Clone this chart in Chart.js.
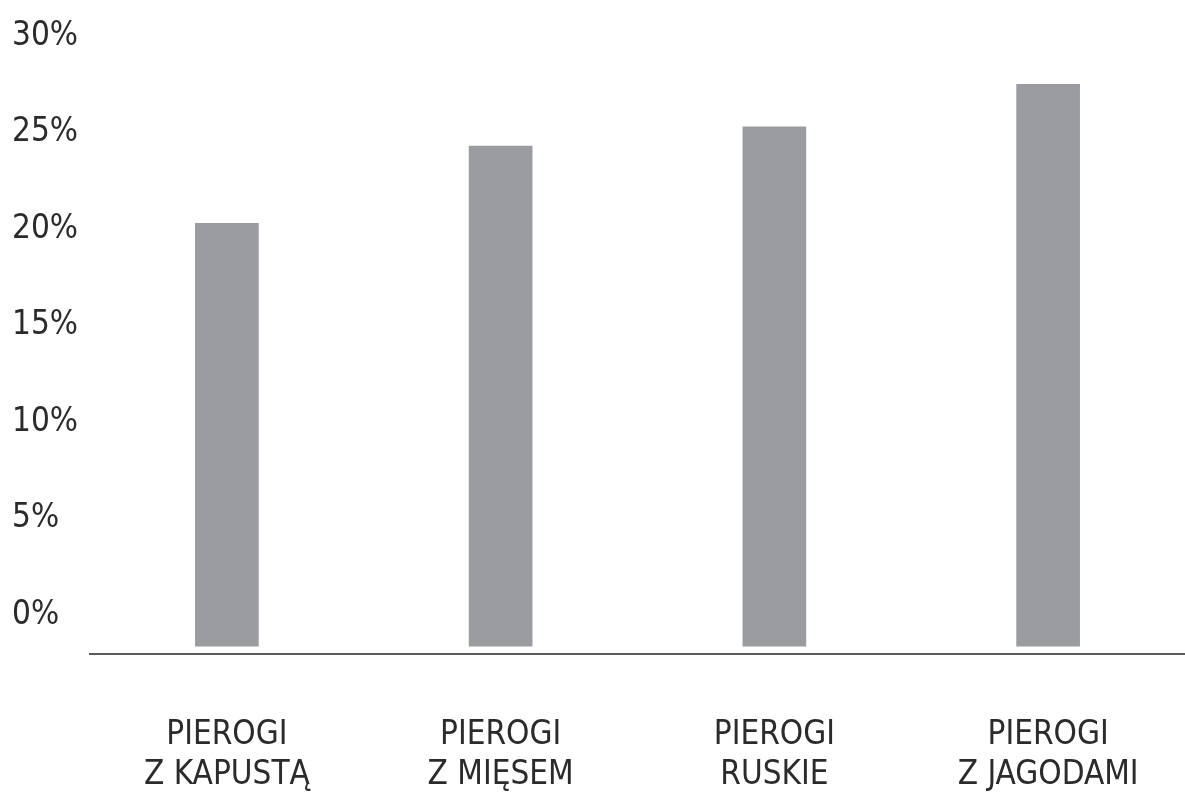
<!DOCTYPE html>
<html lang="pl">
<head>
<meta charset="utf-8">
<title>Pierogi</title>
<script src="https://cdn.jsdelivr.net/npm/chart.js@4/dist/chart.umd.min.js"></script>
<style>
  html, body { margin: 0; padding: 0; background: #fff; }
  #wrap { width: 1185px; height: 794px; position: relative; }
</style>
</head>
<body>
<div id="wrap"><canvas id="pierogiChart"></canvas></div>
<script>
// dane wykresu
const categories = [
  ["PIEROGI", "Z KAPUSTĄ"],
  ["PIEROGI", "Z MIĘSEM"],
  ["PIEROGI", "RUSKIE"],
  ["PIEROGI", "Z JAGODAMI"]
];
const shares = [20.3, 24.3, 25.3, 27.5];
const yTicks = [0, 5, 10, 15, 20, 25, 30];

const labelFont = "'Liberation Sans Narrow', 'DejaVu Sans Condensed', sans-serif";

const ctx = document.getElementById("pierogiChart").getContext("2d");
new Chart(ctx, {
  type: "bar",
  data: {
    labels: categories,
    datasets: [{
      data: shares,
      backgroundColor: "#9b9ca0",
      borderWidth: 0,
      barThickness: 63,
      base: -1.6 // słupki schodzą trochę poniżej 0%, jak w oryginale
    }]
  },
  options: {
    responsive: true,
    maintainAspectRatio: false,
    animation: false,
    layout: { padding: { left: 12, top: 36, right: 0, bottom: 0 } },
    plugins: {
      legend: { display: false },
      tooltip: { enabled: false }
    },
    scales: {
      x: {
        grid: { display: false },
        border: { display: true, color: "#5a5a5a", width: 2 },
        ticks: {
          color: "#2b2b2b",
          font: { family: labelFont, size: 33, lineHeight: 1.2 },
          padding: 54,
          maxRotation: 0,
          autoSkip: false
        },
        afterFit: (scale) => {
          scale.height = 140;
          scale.paddingLeft = 0;
          scale.paddingRight = 0;
        }
      },
      y: {
        min: -2,
        max: 30,
        grid: { display: false },
        border: { display: false },
        afterBuildTicks: (scale) => {
          scale.ticks = yTicks.map((v) => ({ value: v }));
        },
        ticks: {
          color: "#2b2b2b",
          crossAlign: "far",
          padding: 10,
          font: { family: labelFont, size: 33 },
          callback: (v) => v + "%"
        },
        afterFit: (scale) => { scale.width = 78; }
      }
    }
  }
});
</script>
</body>
</html>
